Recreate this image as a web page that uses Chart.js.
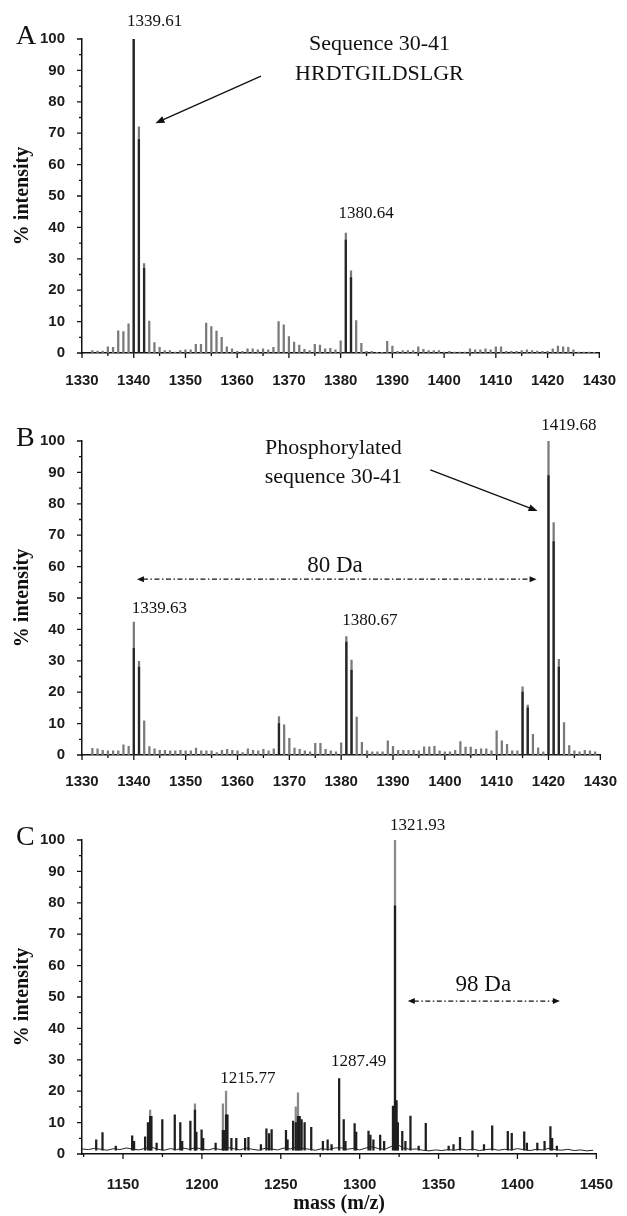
<!DOCTYPE html>
<html>
<head>
    <title>MALDI spectra of sequence 30-41</title>
    <script src="https://cdn.jsdelivr.net/npm/chart.js"></script>
    <style>
        body { margin: 0; background: #ffffff; }
        canvas { position: absolute; left: 0; }
        #chartA { top: 0; }
        #chartB { top: 395px; }
        #chartC { top: 795px; }
    </style>
</head>
<body>
<canvas id="chartA" width="627" height="393"></canvas>
<canvas id="chartB" width="627" height="400"></canvas>
<canvas id="chartC" width="627" height="421"></canvas>

<script>
    // ---- data ----
    var yTicks = [0, 10, 20, 30, 40, 50, 60, 70, 80, 90, 100];
    var xTicksAB = [1330, 1340, 1350, 1360, 1370, 1380, 1390, 1400, 1410, 1420, 1430];
    var xTicksC = [1150, 1200, 1250, 1300, 1350, 1400, 1450];

    // panels A and B share the same integer mass positions
    var massAB = [1332, 1333, 1334, 1335, 1336, 1337, 1338, 1339, 1340, 1341,
        1342, 1343, 1344, 1345, 1346, 1347, 1348, 1349, 1350, 1351,
        1352, 1353, 1354, 1355, 1356, 1357, 1358, 1359, 1360, 1361,
        1362, 1363, 1364, 1365, 1366, 1367, 1368, 1369, 1370, 1371,
        1372, 1373, 1374, 1375, 1376, 1377, 1378, 1379, 1380, 1381,
        1382, 1383, 1384, 1385, 1386, 1387, 1388, 1389, 1390, 1391,
        1392, 1393, 1394, 1395, 1396, 1397, 1398, 1399, 1400, 1401,
        1402, 1403, 1404, 1405, 1406, 1407, 1408, 1409, 1410, 1411,
        1412, 1413, 1414, 1415, 1416, 1417, 1418, 1419, 1420, 1421,
        1422, 1423, 1424, 1425, 1426, 1427, 1428, 1429];

    var intensA = [0.8, 0.6, 0.6, 2.0, 1.8, 7.1, 6.8, 9.3, 100, 72,
        28.5, 10.2, 3.3, 1.8, 0.8, 0.8, 0.3, 0.8, 1.0, 1.0,
        2.8, 2.8, 9.5, 8.4, 7.0, 5.0, 2.0, 1.3, 0.5, 0.5,
        1.3, 1.3, 1.0, 1.3, 1.0, 1.8, 10.0, 9.0, 5.2, 3.5,
        2.5, 1.2, 0.8, 2.8, 2.5, 1.3, 1.5, 1.0, 3.9, 38.2,
        26.2, 10.3, 3.1, 0.5, 0.5, 0.2, 0.2, 3.7, 2.2, 0.5,
        0.8, 0.8, 0.8, 2.0, 1.2, 0.8, 0.8, 0.8, 0.3, 0.5,
        0.3, 0.3, 0.3, 1.3, 1.0, 1.0, 1.3, 1.0, 2.0, 2.0,
        0.5, 0.5, 0.5, 0.8, 1.0, 0.8, 0.6, 0.5, 0.5, 1.3,
        2.2, 2.0, 1.8, 1.0, 0.3, 0.3, 0.3, 0.2];
    // darker centroid trace drawn over the big peaks
    var coreMassA = [1340, 1341, 1342, 1381, 1382];
    var coreA = [100, 68, 27, 36, 24];

    var intensB = [2.1, 2.0, 1.5, 1.3, 1.3, 1.3, 3.2, 2.8, 42.3, 29.8,
        10.9, 2.7, 2.0, 1.5, 1.5, 1.3, 1.3, 1.5, 1.3, 1.3,
        2.2, 1.3, 1.3, 1.3, 0.8, 1.5, 1.8, 1.5, 1.3, 0.8,
        2.0, 1.5, 1.3, 1.8, 1.3, 2.0, 12.2, 9.6, 5.3, 2.2,
        1.8, 1.3, 1.0, 3.7, 3.7, 1.8, 1.3, 1.0, 3.9, 37.7,
        30.2, 12.1, 4.0, 1.3, 1.0, 1.0, 1.0, 4.5, 2.8, 1.5,
        1.5, 1.5, 1.5, 1.3, 2.6, 2.6, 2.8, 1.3, 1.0, 1.0,
        1.5, 4.3, 2.5, 2.5, 1.8, 2.0, 2.0, 1.3, 7.7, 4.5,
        3.4, 1.3, 1.3, 21.7, 15.9, 6.6, 2.3, 1.0, 100, 74,
        30.5, 10.3, 3.0, 1.3, 1.0, 1.5, 1.3, 1.0];
    var coreMassB = [1340, 1341, 1368, 1381, 1382, 1415, 1416, 1420, 1421, 1422];
    var coreB = [34, 28, 10, 36, 27, 20, 15, 89, 68, 28];

    // panel C: spikes on a noisy baseline
    var massC = [1133, 1137, 1145.4, 1155.8, 1157, 1164, 1165.8, 1167.2, 1168, 1171.3,
        1174.9, 1182.8, 1186.3, 1187.5, 1192.7, 1195.6, 1196.5, 1199.8, 1200.8, 1208.7,
        1213.3, 1214.2, 1215.3, 1216.2, 1218.7, 1221.8, 1227.4, 1229.5, 1237.4, 1240.9,
        1242.6, 1244.2, 1253.3, 1254.3, 1257.8, 1259.5, 1260.9, 1262, 1263.2, 1265.1,
        1269.3, 1276.7, 1279.7, 1282.2, 1287, 1289.9, 1291, 1296.8, 1297.8, 1305.6,
        1306.8, 1308.7, 1313, 1315.5, 1321.1, 1322.4, 1323.4, 1324.2, 1327, 1329,
        1332.2, 1337.4, 1341.9, 1356.4, 1359.5, 1363.6, 1371.5, 1378.8, 1384, 1393.9,
        1396.4, 1404.3, 1406, 1412.6, 1417.2, 1420.9, 1422, 1425];
    var intensC = [4.5, 6.8, 2.5, 5.8, 4, 5.5, 10, 12, 12, 3.5,
        11, 12.5, 10, 4, 10.5, 14, 7, 7.7, 5, 3.5,
        7.5, 7.5, 12.5, 12.5, 5, 5, 5, 5.3, 3, 8,
        6.5, 7.8, 7.5, 4.5, 10.5, 10, 12, 12, 11, 10,
        8.5, 4, 4.5, 3, 24, 11, 4, 9.7, 7, 7.3,
        6, 4.5, 6, 4, 15.3, 79, 17, 10, 7.2, 4,
        12.1, 2.5, 9.8, 2.5, 3, 5.3, 7.4, 3, 9, 7.2,
        6.6, 7.1, 3.5, 3.5, 4, 8.7, 5, 2.5];
    // lighter profile tops of the tallest spikes
    var topMassC = [1167.2, 1195.6, 1213.3, 1215.3, 1259.5, 1260.9, 1322.4];
    var topC = [14, 16, 16, 20, 15, 19.5, 100];
    var baseC = 1.2;

    var baselineMassC = [1124, 1128, 1132, 1136, 1140, 1144, 1148, 1152, 1156, 1160,
        1164, 1168, 1172, 1176, 1180, 1184, 1188, 1192, 1196, 1200,
        1204, 1208, 1212, 1216, 1220, 1224, 1228, 1232, 1236, 1240,
        1244, 1248, 1252, 1256, 1260, 1264, 1268, 1272, 1276, 1280,
        1284, 1288, 1292, 1296, 1300, 1304, 1308, 1312, 1316, 1320,
        1324, 1328, 1332, 1336, 1340, 1344, 1348, 1352, 1356, 1360,
        1364, 1368, 1372, 1376, 1380, 1384, 1388, 1392, 1396, 1400,
        1404, 1408, 1412, 1416, 1420, 1424, 1428, 1432, 1436, 1440,
        1444, 1448];
    var baselineC = [1.6, 1.4, 1.8, 1.5, 1.2, 1.7, 1.4, 1.9, 1.6, 1.3,
        1.8, 2.2, 1.5, 1.2, 1.7, 1.4, 1.9, 1.5, 2.0, 1.6,
        1.3, 1.8, 1.4, 2.1, 1.7, 1.3, 1.9, 1.5, 1.2, 1.8,
        1.6, 1.3, 1.9, 1.6, 2.2, 1.8, 1.5, 1.2, 1.7, 1.4,
        1.9, 2.0, 1.5, 1.8, 1.3, 1.9, 2.3, 1.7, 1.5, 2.4,
        3.0, 1.8, 1.5, 1.6, 1.2, 1.0, 1.3, 1.1, 1.4, 1.2,
        1.6, 1.3, 1.5, 1.1, 1.4, 1.6, 1.2, 1.5, 1.3, 1.7,
        1.4, 1.1, 1.5, 1.3, 1.8, 1.4, 1.2, 1.5, 1.1, 1.3,
        1.0, 1.2];

    // ---- drawing helpers ----
    var serif = '"Liberation Serif", "Times New Roman", serif';
    var axisFont = {family: '"Liberation Sans", Arial, sans-serif', size: 15, weight: 'bold'};

    function pts(xs, ys) {
        return xs.map(function (m, i) { return {x: m, y: ys[i]}; });
    }

    function arrowHead(ctx, x1, y1, x2, y2, len, wid) {
        var a = Math.atan2(y2 - y1, x2 - x1);
        var bx = x2 - len * Math.cos(a), by = y2 - len * Math.sin(a);
        ctx.beginPath();
        ctx.moveTo(x2, y2);
        ctx.lineTo(bx + wid / 2 * Math.sin(a), by - wid / 2 * Math.cos(a));
        ctx.lineTo(bx - wid / 2 * Math.sin(a), by + wid / 2 * Math.cos(a));
        ctx.closePath();
        ctx.fill();
    }

    // minor / major tick marks drawn outside the axes
    var tickMarks = {
        id: 'tickMarks',
        afterDraw: function (chart, args, o) {
            var ctx = chart.ctx, x = chart.scales.x, y = chart.scales.y;
            ctx.save();
            ctx.strokeStyle = '#111';
            ctx.lineWidth = 1.3;
            ctx.beginPath();
            for (var v = Math.ceil(x.min / o.xMinor) * o.xMinor; v <= x.max; v += o.xMinor) {
                var p = x.getPixelForValue(v);
                var len = o.xMajor.indexOf(v) >= 0 ? 5 : 3;
                ctx.moveTo(p, x.top);
                ctx.lineTo(p, x.top + len);
            }
            for (var w = 0; w <= 100; w += 5) {
                var q = y.getPixelForValue(w);
                var l2 = yTicks.indexOf(w) >= 0 ? 5 : 3;
                ctx.moveTo(y.right, q);
                ctx.lineTo(y.right - l2, q);
            }
            ctx.stroke();
            ctx.restore();
        }
    };

    // panel letter, peak labels and arrows
    var notes = {
        id: 'notes',
        afterDraw: function (chart, args, o) {
            var ctx = chart.ctx, area = chart.chartArea;
            var x = chart.scales.x, y = chart.scales.y;
            var px = function (v) { return x.getPixelForValue(v); };
            var py = function (v) { return y.getPixelForValue(v); };
            ctx.save();
            ctx.fillStyle = '#111';
            ctx.strokeStyle = '#111';
            ctx.textBaseline = 'alphabetic';
            ctx.textAlign = 'left';
            ctx.font = '28px ' + serif;
            ctx.fillText(o.letter, area.left - 66, area.top + 5);
            o.texts.forEach(function (t) {
                ctx.font = t.size + 'px ' + serif;
                ctx.textAlign = t.align;
                ctx.fillText(t.text, px(t.x), py(t.y));
            });
            o.arrows.forEach(function (a) {
                var x1 = px(a.x1), y1 = py(a.y1), x2 = px(a.x2), y2 = py(a.y2);
                var len = a.dash ? 7 : 9, wid = a.dash ? 6 : 7;
                var ang = Math.atan2(y2 - y1, x2 - x1);
                var sx = a.both ? x1 + (len - 1) * Math.cos(ang) : x1;
                var sy = a.both ? y1 + (len - 1) * Math.sin(ang) : y1;
                ctx.lineWidth = a.dash ? 1.2 : 1.3;
                ctx.setLineDash(a.dash ? [5, 2.5, 1.5, 2.5] : []);
                ctx.beginPath();
                ctx.moveTo(sx, sy);
                ctx.lineTo(x2 - (len - 1) * Math.cos(ang), y2 - (len - 1) * Math.sin(ang));
                ctx.stroke();
                ctx.setLineDash([]);
                arrowHead(ctx, x1, y1, x2, y2, len, wid);
                if (a.both) arrowHead(ctx, x2, y2, x1, y1, len, wid);
            });
            ctx.restore();
        }
    };

    function panelOptions(p) {
        return {
            responsive: false,
            animation: false,
            layout: {padding: {top: p.padTop, right: p.padRight, left: 0, bottom: 0}},
            plugins: {
                legend: {display: false},
                tooltip: {enabled: false},
                tickMarks: {xMajor: p.xTicks, xMinor: p.xMinor},
                notes: p.notes
            },
            scales: {
                x: {
                    type: 'linear',
                    min: p.xMin,
                    max: p.xMax,
                    offset: false,
                    afterBuildTicks: function (s) { s.ticks = p.xTicks.map(function (v) { return {value: v}; }); },
                    afterFit: function (s) { s.height = p.xHeight; },
                    ticks: {font: axisFont, color: '#1a1a1a', padding: p.xPad, maxRotation: 0, autoSkip: false,
                        callback: function (v) { return String(v); }},
                    grid: {display: false},
                    border: {color: '#111', width: 1.5},
                    title: p.xTitle ? {display: true, text: p.xTitle, color: '#111',
                        font: {family: serif, size: 20, weight: 'bold'}, padding: {top: 0, bottom: 0}} : {display: false}
                },
                y: {
                    type: 'linear',
                    min: 0,
                    max: 100,
                    afterBuildTicks: function (s) { s.ticks = yTicks.map(function (v) { return {value: v}; }); },
                    afterFit: function (s) { s.width = 82; },
                    ticks: {font: axisFont, color: '#1a1a1a', padding: 9, callback: function (v) { return String(v); }},
                    grid: {display: false},
                    border: {color: '#111', width: 1.5},
                    title: {display: true, text: '% intensity', color: '#111',
                        font: {family: serif, size: 20, weight: 'bold'}, padding: {top: 11, bottom: 0}}
                }
            }
        };
    }

    function barSet(data, color, order) {
        return {type: 'bar', data: data, backgroundColor: color, borderWidth: 0,
            barThickness: 1.6, grouped: false, order: order};
    }

    // ---- panel A ----
    new Chart(document.getElementById('chartA'), {
        type: 'bar',
        data: {datasets: [
            barSet(pts(coreMassA, coreA), '#262626', 1),
            barSet(pts(massAB, intensA), '#7a7a7a', 2)
        ]},
        options: panelOptions({
            padTop: 39, padRight: 20, xMin: 1330, xMax: 1430, xTicks: xTicksAB, xMinor: 5,
            xHeight: 40, xPad: 11,
            notes: {
                letter: 'A',
                texts: [
                    {text: '1339.61', x: 1338.7, y: 104.1, size: 17, align: 'left'},
                    {text: '1380.64', x: 1379.6, y: 43.0, size: 17, align: 'left'},
                    {text: 'Sequence 30-41', x: 1387.5, y: 96.5, size: 22, align: 'center'},
                    {text: 'HRDTGILDSLGR', x: 1387.5, y: 86.9, size: 22, align: 'center'}
                ],
                arrows: [{x1: 1364.6, y1: 88.2, x2: 1344.2, y2: 73.2}]
            }
        }),
        plugins: [tickMarks, notes]
    });

    // ---- panel B ----
    new Chart(document.getElementById('chartB'), {
        type: 'bar',
        data: {datasets: [
            barSet(pts(coreMassB, coreB), '#262626', 1),
            barSet(pts(massAB, intensB), '#7a7a7a', 2)
        ]},
        options: panelOptions({
            padTop: 46, padRight: 17, xMin: 1330, xMax: 1430, xTicks: xTicksAB, xMinor: 5,
            xHeight: 40, xPad: 10,
            notes: {
                letter: 'B',
                texts: [
                    {text: '1419.68', x: 1418.6, y: 103.5, size: 17, align: 'left'},
                    {text: '1339.63', x: 1339.6, y: 45.2, size: 17, align: 'left'},
                    {text: '1380.67', x: 1380.2, y: 41.4, size: 17, align: 'left'},
                    {text: 'Phosphorylated', x: 1378.5, y: 95.9, size: 22, align: 'center'},
                    {text: 'sequence 30-41', x: 1378.5, y: 86.6, size: 22, align: 'center'},
                    {text: '80 Da', x: 1378.8, y: 58.3, size: 23, align: 'center'}
                ],
                arrows: [
                    {x1: 1397.2, y1: 90.8, x2: 1417.9, y2: 77.7},
                    {x1: 1340.6, y1: 56, x2: 1417.7, y2: 56, dash: true, both: true}
                ]
            }
        }),
        plugins: [tickMarks, notes]
    });

    // ---- panel C ----
    new Chart(document.getElementById('chartC'), {
        type: 'bar',
        data: {datasets: [
            {type: 'line', data: pts(baselineMassC, baselineC), borderColor: '#222', borderWidth: 1,
                pointRadius: 0, tension: 0, order: 0},
            barSet(massC.map(function (m, i) { return {x: m, y: [baseC, intensC[i]]}; }), '#1e1e1e', 1),
            barSet(topMassC.map(function (m, i) { return {x: m, y: [baseC, topC[i]]}; }), '#8a8a8a', 2)
        ]},
        options: panelOptions({
            padTop: 45, padRight: 20, xMin: 1124, xMax: 1450, xTicks: xTicksC, xMinor: 25,
            xHeight: 62, xPad: 14, xTitle: 'mass (m/z)',
            notes: {
                letter: 'C',
                texts: [
                    {text: '1321.93', x: 1319.3, y: 103.2, size: 17, align: 'left'},
                    {text: '1215.77', x: 1211.6, y: 22.6, size: 17, align: 'left'},
                    {text: '1287.49', x: 1281.9, y: 28, size: 17, align: 'left'},
                    {text: '98 Da', x: 1378.4, y: 51.9, size: 23, align: 'center'}
                ],
                arrows: [{x1: 1330.5, y1: 48.7, x2: 1426.9, y2: 48.7, dash: true, both: true}]
            }
        }),
        plugins: [tickMarks, notes]
    });
</script>
</body>
</html>
